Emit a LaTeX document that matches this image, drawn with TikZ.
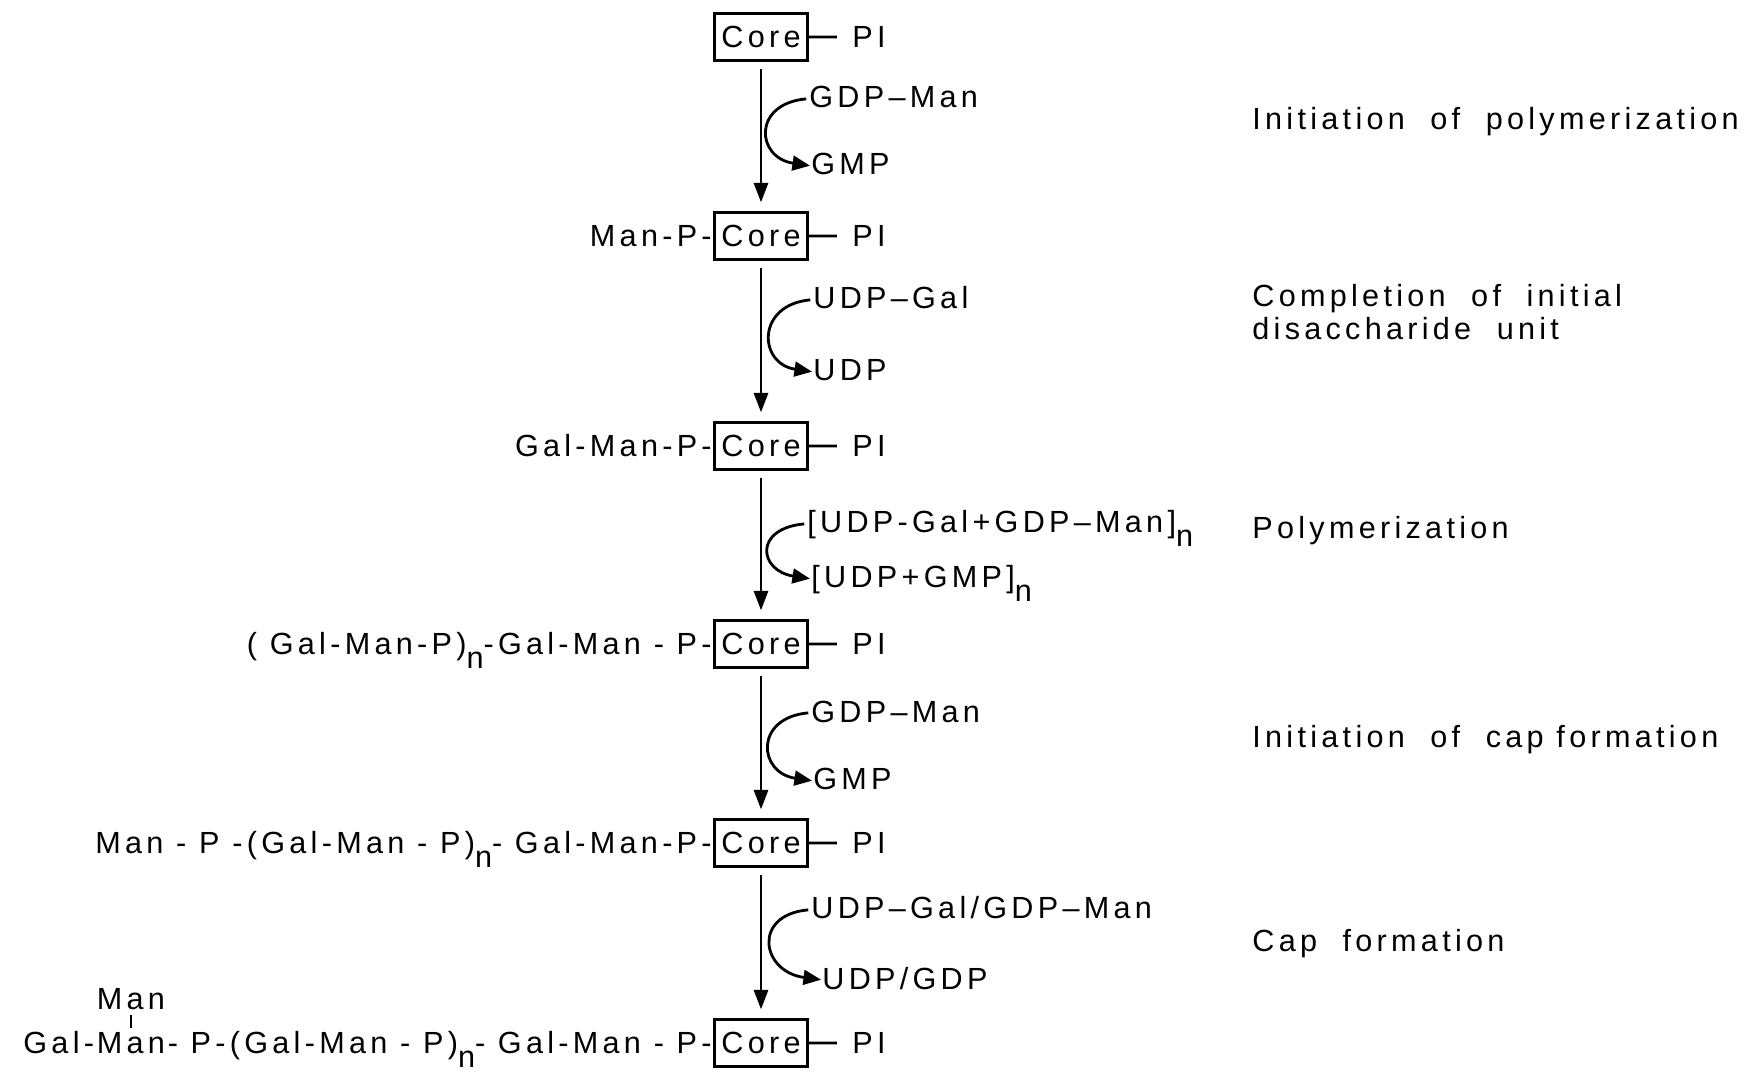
\documentclass[tikz,border=0pt]{standalone}
\usepackage{fontspec}
\setmainfont{Liberation Sans}[LetterSpace=14]
\usetikzlibrary{positioning,arrows.meta}

\newcommand{\lown}{\raisebox{-0.45em}{n}}

\begin{document}
\begin{tikzpicture}[x = 0.01cm, y = -0.01cm,
		font = \fontsize{8.7pt}{9.4pt}\selectfont,
		line width = 0.8pt,
		core/.style = {draw, minimum width = 0.93cm, minimum height = 0.47cm, inner sep = 0pt},
		lhs/.style = {inner sep = 0pt},
		rhs/.style = {inner ysep = 0pt, inner xsep = 0.14cm},
		feed/.style = {inner sep = 0pt, anchor = base west},
		note/.style = {inner sep = 0pt, anchor = base west},
		flow/.style = {-{Triangle[length = 5.5pt, width = 4pt]}, shorten <= 2pt, shorten >= 2.5pt},
		turn/.style = {-{Triangle[length = 5pt, width = 4.2pt]}, shorten <= 0.5pt}]
	\useasboundingbox (0,0) rectangle (1744,1076);

	% cores
	\node[core] (c1) at (761,37) {Core};
	\node[core] (c2) at (761,236) {Core};
	\node[core] (c3) at (761,446) {Core};
	\node[core] (c4) at (761,644) {Core};
	\node[core] (c5) at (761,843) {Core};
	\node[core] (c6) at (761,1043) {Core};

	\node[rhs, base right = 0.28cm of c1.base east] (p1) {PI};
	\node[rhs, base right = 0.28cm of c2.base east] (p2) {PI};
	\node[rhs, base right = 0.28cm of c3.base east] (p3) {PI};
	\node[rhs, base right = 0.28cm of c4.base east] (p4) {PI};
	\node[rhs, base right = 0.28cm of c5.base east] (p5) {PI};
	\node[rhs, base right = 0.28cm of c6.base east] (p6) {PI};
	\draw (c1) -- (p1) (c2) -- (p2) (c3) -- (p3) (c4) -- (p4) (c5) -- (p5) (c6) -- (p6);

	% chains on the left
	\node[lhs, base left = 0pt of c2.base west] (l2) {Man-P-};
	\node[lhs, base left = 0pt of c3.base west] (l3) {Gal-Man-P-};
	\node[lhs, base left = 0pt of c4.base west] (l4) {( Gal-Man-P)\lown-Gal-Man - P-};
	\node[lhs, base left = 0pt of c5.base west] (l5) {Man - P -(Gal-Man - P)\lown- Gal-Man-P-};
	\node[lhs, base left = 0pt of c6.base west] (l6c) { - P-(Gal-Man - P)\lown- Gal-Man - P-};
	\node[lhs, base left = 0pt of l6c.base west] (l6b) {Man};
	\node[lhs, base left = 0pt of l6b.base west] (l6a) {Gal-};
	\node[lhs, above = 0.2cm of l6b] (m6) {Man};
	\draw[shorten <= 1pt, shorten >= 1pt] (m6) -- (l6b);

	% steps
	\draw[flow] (c1) -- (c2);
	\draw[flow] (c2) -- (c3);
	\draw[flow] (c3) -- (c4);
	\draw[flow] (c4) -- (c5);
	\draw[flow] (c5) -- (c6);

	\node[feed] (a1) at (808,108) {GDP–Man};
	\node[feed] (b1) at (810,175) {GMP};
	\draw[turn] (a1.mid west) .. controls +(-56,5) and +(-54,-8) .. (b1.mid west);

	\node[feed] (a2) at (812,309) {UDP–Gal};
	\node[feed] (b2) at (812,381) {UDP};
	\draw[turn] (a2.mid west) .. controls +(-56,5) and +(-54,-8) .. (b2.mid west);

	\node[feed] (a3) at (806,533) {[UDP-Gal+GDP–Man]\lown};
	\node[feed] (b3) at (810,588) {[UDP+GMP]\lown};
	\draw[turn] (a3.mid west) .. controls +(-53,5) and +(-51,-8) .. (b3.mid west);

	\node[feed] (a4) at (810,722) {GDP–Man};
	\node[feed] (b4) at (812,790) {GMP};
	\draw[turn] (a4.mid west) .. controls +(-56,5) and +(-54,-8) .. (b4.mid west);

	\node[feed] (a5) at (810,919) {UDP–Gal/GDP–Man};
	\node[feed] (b5) at (821,989) {UDP/GDP};
	\draw[turn] (a5.mid west) .. controls +(-58,5) and +(-60,-8) .. (b5.mid west);

	% what each step does
	\node[note] (n1) at (1251,130) {Initiation\ \ of\ \ polymerization};
	\node[note] (n2) at (1251,307) {Completion\ \ of\ \ initial};
	\node[note] (n2b) at (1251,340) {disaccharide\ \ unit};
	\node[note] (n3) at (1251,539) {Polymerization};
	\node[note] (n4) at (1251,748) {Initiation\ \ of\ \ cap formation};
	\node[note] (n5) at (1251,952) {Cap\ \ formation};
\end{tikzpicture}
\end{document}
